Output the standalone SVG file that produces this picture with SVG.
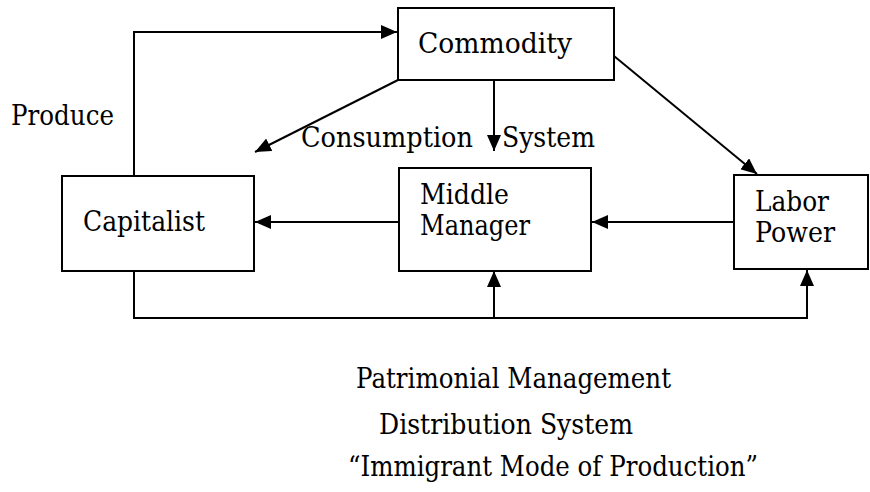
<svg xmlns="http://www.w3.org/2000/svg" width="870" height="492" viewBox="0 0 870 492">
<style>
.box{fill:#fff;stroke:#000;stroke-width:2}
.ln{fill:none;stroke:#000;stroke-width:2}
.t{font-family:'DejaVu Serif',serif;font-size:28.5px;fill:#000}
</style>
<defs>
<marker id="ah" markerUnits="userSpaceOnUse" markerWidth="18" markerHeight="14" refX="16" refY="7" orient="auto">
<path d="M0,0 L16,7 L0,14 Z" fill="#000"/>
</marker>
</defs>
<g id="connectors">
<path class="ln" d="M134,176 V32 H397" marker-end="url(#ah)"/>
<path class="ln" d="M398,80 L255,152" marker-end="url(#ah)"/>
<path class="ln" d="M494,80 V151" marker-end="url(#ah)"/>
<path class="ln" d="M614,56 L757,174" marker-end="url(#ah)"/>
<path class="ln" d="M399,222 H255" marker-end="url(#ah)"/>
<path class="ln" d="M734,222 H592" marker-end="url(#ah)"/>
<path class="ln" d="M134,271 V318 H807 V270" marker-end="url(#ah)"/>
<path class="ln" d="M494,318 V271" marker-end="url(#ah)"/>
</g>
<g id="commodity"><rect class="box" x="398" y="8" width="216" height="72"/><text class="t" x="418" y="53" textLength="154" lengthAdjust="spacingAndGlyphs">Commodity</text></g>
<g id="capitalist"><rect class="box" x="62" y="176" width="192" height="95"/><text class="t" x="83" y="231" textLength="122" lengthAdjust="spacingAndGlyphs">Capitalist</text></g>
<g id="middle-manager"><rect class="box" x="399" y="168" width="192" height="103"/><text class="t" x="420" y="204" textLength="89" lengthAdjust="spacingAndGlyphs">Middle</text><text class="t" x="420" y="235" textLength="110" lengthAdjust="spacingAndGlyphs">Manager</text></g>
<g id="labor-power"><rect class="box" x="734" y="175" width="134" height="94"/><text class="t" x="755" y="211" textLength="74" lengthAdjust="spacingAndGlyphs">Labor</text><text class="t" x="755" y="242" textLength="80" lengthAdjust="spacingAndGlyphs">Power</text></g>
<g id="labels">
<text class="t" x="11" y="125" textLength="103" lengthAdjust="spacingAndGlyphs">Produce</text>
<text class="t" x="301" y="147" textLength="172" lengthAdjust="spacingAndGlyphs">Consumption</text>
<text class="t" x="502" y="147" textLength="93" lengthAdjust="spacingAndGlyphs">System</text>
<text class="t" x="356" y="388" textLength="315" lengthAdjust="spacingAndGlyphs">Patrimonial Management</text>
<text class="t" x="379" y="434" textLength="254" lengthAdjust="spacingAndGlyphs">Distribution System</text>
<text class="t" x="348" y="476" textLength="410" lengthAdjust="spacingAndGlyphs">“Immigrant Mode of Production”</text>
</g>
</svg>
